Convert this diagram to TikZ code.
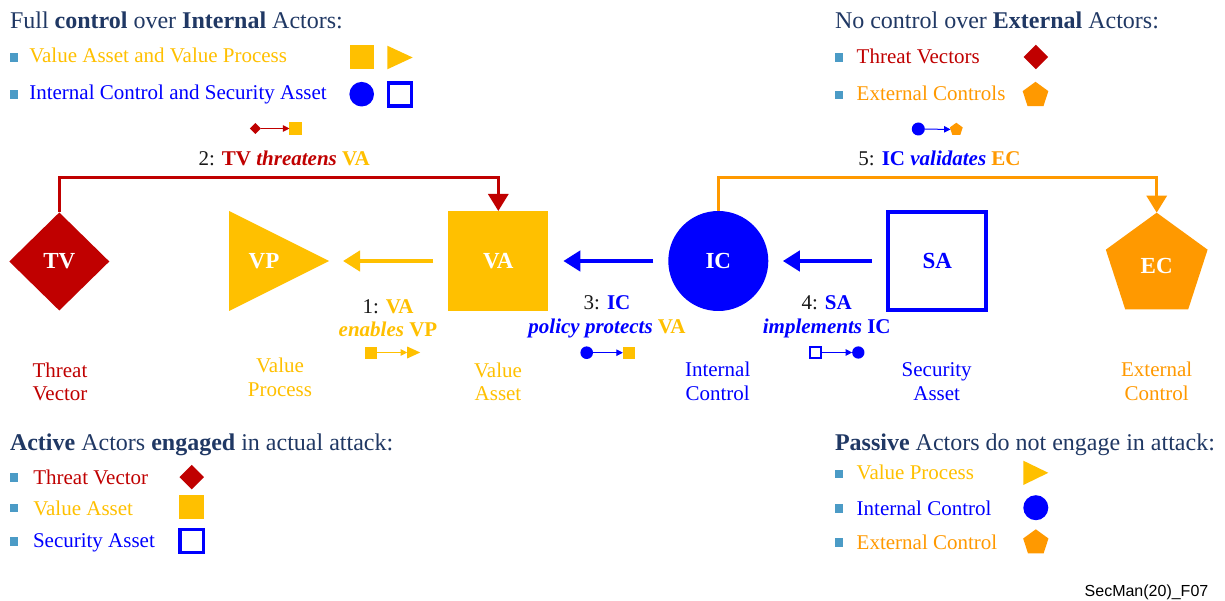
\documentclass[tikz,border=0pt]{standalone}
\usepackage{fontspec}
\setmainfont{Liberation Serif}
\newfontfamily\codefont{Liberation Sans}
\usetikzlibrary{arrows.meta,shapes.geometric}

\definecolor{tvred}{RGB}{192,0,0}
\definecolor{vgold}{RGB}{255,192,0}
\definecolor{icblue}{RGB}{0,0,255}
\definecolor{ecorange}{RGB}{255,153,0}
\definecolor{headnavy}{RGB}{32,56,100}
\definecolor{bulletblue}{RGB}{75,155,198}
\definecolor{numblack}{RGB}{25,25,25}

\newcommand\headsize{\fontsize{24}{28}\selectfont}
\newcommand\itemsize{\fontsize{21}{25}\selectfont}
\newcommand\tagsize{\fontsize{23}{27}\selectfont}

\begin{document}
\begin{tikzpicture}[x=1pt,y=-1pt,
  every node/.style={inner sep=0pt, outer sep=0pt},
  headtext/.style={anchor=base west, font=\headsize, text=headnavy},
  itemtext/.style={anchor=base west, font=\itemsize},
  undertext/.style={anchor=base, font=\itemsize},
  bulletsq/.style={rectangle, fill=bulletblue, minimum size=8.5pt},
  shapetag/.style={font=\tagsize\bfseries, text=white},
  flowarrow/.style={line width=4.5pt, -{Triangle[length=17pt,width=20pt]}},
  linkarrow/.style={line width=3pt, -{Triangle[length=17pt,width=20pt]}},
  miniarrow/.style={line width=1pt, -{Triangle[length=6.5pt,width=6.5pt]}},
  pent/.style={regular polygon, regular polygon sides=5},
]
\fill[white] (0,0) rectangle (1225,601);
\useasboundingbox (0,0) rectangle (1225,601);

% ---------- headings ----------
\node[headtext] (h1) at (10,28.5) {Full \textbf{control} over \textbf{Internal} Actors:};
\node[headtext] (h2) at (835,28.5) {No control over \textbf{External} Actors:};
\node[headtext] (h3) at (10,450.5) {\textbf{Active} Actors \textbf{engaged} in actual attack:};
\node[headtext] (h4) at (835,450) {\textbf{Passive} Actors do not engage in attack:};

% ---------- internal actors legend ----------
\node[bulletsq] (b1) at (14.2,57.5) {};
\node[itemtext, text=vgold] (t1) at (29.3,62.3) {Value Asset and Value Process};
\node[fill=vgold, minimum size=24pt] (k1) at (361.7,57.4) {};
\fill[vgold] (387.3,45.7) -- (412.7,57.5) -- (387.3,69.3) -- cycle;
\node[bulletsq] (b2) at (14.2,94.5) {};
\node[itemtext, text=icblue] (t2) at (29.3,100) {Internal Control and Security Asset};
\node[circle, fill=icblue, minimum size=24.6pt] (k2) at (361.7,94.2) {};
\node[draw=icblue, line width=3.5pt, minimum size=22.8pt] (k3) at (400,94.5) {};

% ---------- external actors legend ----------
\node[bulletsq] (b3) at (838.8,57.5) {};
\node[itemtext, text=tvred] (t3) at (856.7,63.3) {Threat Vectors};
\node[diamond, fill=tvred, minimum size=24.5pt] (k4) at (1035.8,57) {};
\node[bulletsq] (b4) at (838.8,95) {};
\node[itemtext, text=ecorange] (t4) at (856.7,101) {External Controls};
\node[pent, fill=ecorange, minimum size=27pt] (k5) at (1035.5,95.3) {};

% ---------- relation 2: TV threatens VA ----------
\node[diamond, fill=tvred, minimum size=11pt] (s2a) at (255.3,128.5) {};
\node[fill=vgold, minimum size=12.5pt] (s2b) at (295.7,128.5) {};
\draw[miniarrow, tvred] (s2a) -- (s2b);
\node[undertext] (l2) at (284.2,165.7) {\textcolor{numblack}{2:} \textbf{\textcolor{tvred}{TV \textit{threatens}} \textcolor{vgold}{VA}}};

% ---------- relation 5: IC validates EC ----------
\node[circle, fill=icblue, minimum size=13pt] (s5a) at (918.3,129) {};
\node[pent, fill=ecorange, minimum size=13.5pt] (s5b) at (956.3,129.5) {};
\draw[miniarrow, icblue] (s5a) -- (s5b);
\node[undertext] (l5) at (939.5,165.7) {\textcolor{numblack}{5:} \textbf{\textcolor{icblue}{IC \textit{validates}} \textcolor{ecorange}{EC}}};

% ---------- actors ----------
\node[diamond, fill=tvred, minimum width=100pt, minimum height=98pt, shapetag] (tv) at (59.3,261.5) {TV};
\node[minimum width=100pt, minimum height=100pt] (vp) at (279,261) {};
\fill[vgold] (vp.north west) -- (vp.east) -- (vp.south west) -- cycle;
\node[shapetag] (vptag) at (264,261) {VP};
\node[fill=vgold, minimum size=100pt, shapetag] (va) at (498.3,261) {VA};
\node[circle, fill=icblue, minimum size=100pt, shapetag] (ic) at (718.3,261) {IC};
\node[draw=icblue, line width=4pt, minimum size=98pt, shapetag, text=icblue] (sa) at (937.2,261) {SA};
\node[pent, fill=ecorange, minimum size=107pt, shapetag] (ec) at (1156.7,266.2) {EC};

% ---------- relations between actors ----------
\draw[flowarrow, vgold, shorten <=15pt, shorten >=14pt] (va.west) -- (vp.east);
\draw[flowarrow, icblue, shorten <=15pt, shorten >=15pt] (ic.west) -- (va.east);
\draw[flowarrow, icblue, shorten <=16pt, shorten >=14.5pt] (sa.west) -- (ic.east);
\draw[linkarrow, tvred] (tv.north) -- ++(0,-34.5) -| (va.north);
\draw[linkarrow, ecorange] (ic.north) -- ++(0,-33) -| (ec.north);

% ---------- relation 1: VA enables VP ----------
\node[undertext] (l1a) at (388,313.3) {\textcolor{numblack}{1:} \textbf{\textcolor{vgold}{VA}}};
\node[undertext] (l1b) at (388,336.7) {\textbf{\textcolor{vgold}{\textit{enables} VP}}};
\node[fill=vgold, minimum size=12pt] (s1a) at (371,352.5) {};
\node[minimum width=13pt, minimum height=12pt] (s1b) at (413.7,352.5) {};
\fill[vgold] (s1b.north west) -- (s1b.east) -- (s1b.south west) -- cycle;
\draw[miniarrow, vgold] (s1a) -- (s1b.west);

% ---------- relation 3: IC policy protects VA ----------
\node[undertext] (l3a) at (607,309.5) {\textcolor{numblack}{3:} \textbf{\textcolor{icblue}{IC}}};
\node[undertext] (l3b) at (607,333.3) {\textbf{\textcolor{icblue}{\textit{policy protects}} \textcolor{vgold}{VA}}};
\node[circle, fill=icblue, minimum size=12.6pt] (s3a) at (586.7,352.7) {};
\node[fill=vgold, minimum size=12.3pt] (s3b) at (629,352.7) {};
\draw[miniarrow, icblue] (s3a) -- (s3b);

% ---------- relation 4: SA implements IC ----------
\node[undertext] (l4a) at (826.7,309.5) {\textcolor{numblack}{4:} \textbf{\textcolor{icblue}{SA}}};
\node[undertext] (l4b) at (826.7,333.3) {\textbf{\textcolor{icblue}{\textit{implements} IC}}};
\node[draw=icblue, line width=1.3pt, minimum size=11pt] (s4a) at (815.5,352.5) {};
\node[circle, fill=icblue, minimum size=12.3pt] (s4b) at (858.3,352.5) {};
\draw[miniarrow, icblue] (s4a) -- (s4b);

% ---------- actor names ----------
\node[undertext, text=tvred] (n1a) at (60,377.3) {Threat};
\node[undertext, text=tvred] (n1b) at (60,400.7) {Vector};
\node[undertext, text=vgold] (n2a) at (280,372.7) {Value};
\node[undertext, text=vgold] (n2b) at (280,396.7) {Process};
\node[undertext, text=vgold] (n3a) at (498,377.3) {Value};
\node[undertext, text=vgold] (n3b) at (498,400.7) {Asset};
\node[undertext, text=icblue] (n4a) at (717.7,376.7) {Internal};
\node[undertext, text=icblue] (n4b) at (717.7,400) {Control};
\node[undertext, text=icblue] (n5a) at (936.7,376.7) {Security};
\node[undertext, text=icblue] (n5b) at (936.7,400) {Asset};
\node[undertext, text=ecorange] (n6a) at (1156.7,376.7) {External};
\node[undertext, text=ecorange] (n6b) at (1156.7,400) {Control};

% ---------- active actors legend ----------
\node[bulletsq] (b5) at (13.8,477.5) {};
\node[itemtext, text=tvred] (t5) at (33.3,484) {Threat Vector};
\node[diamond, fill=tvred, minimum size=24.5pt] (k6) at (191.7,477.2) {};
\node[bulletsq] (b6) at (13.8,508) {};
\node[itemtext, text=vgold] (t6) at (33.3,515.7) {Value Asset};
\node[fill=vgold, minimum size=24.5pt] (k7) at (191.7,507.2) {};
\node[bulletsq] (b7) at (13.8,541.3) {};
\node[itemtext, text=icblue] (t7) at (33,547.7) {Security Asset};
\node[draw=icblue, line width=3.5pt, minimum size=23.2pt] (k8) at (191.7,541) {};

% ---------- passive actors legend ----------
\node[bulletsq] (b8) at (839.2,474.2) {};
\node[itemtext, text=vgold] (t8) at (856.7,479) {Value Process};
\fill[vgold] (1023.3,460.7) -- (1048.3,472.8) -- (1023.3,485) -- cycle;
\node[bulletsq] (b9) at (839.2,508.3) {};
\node[itemtext, text=icblue] (t9) at (856.7,515) {Internal Control};
\node[circle, fill=icblue, minimum size=25pt] (k9) at (1035.8,507.7) {};
\node[bulletsq] (b10) at (839.2,542.5) {};
\node[itemtext, text=ecorange] (t10) at (856.7,549) {External Control};
\node[pent, fill=ecorange, minimum size=26.6pt] (k10) at (1035.8,542.6) {};

% ---------- figure code ----------
\node[anchor=base east, font=\codefont\fontsize{16}{19}\selectfont] (ref) at (1208.3,596.7) {SecMan(20)\_F07};
\end{tikzpicture}
\end{document}
